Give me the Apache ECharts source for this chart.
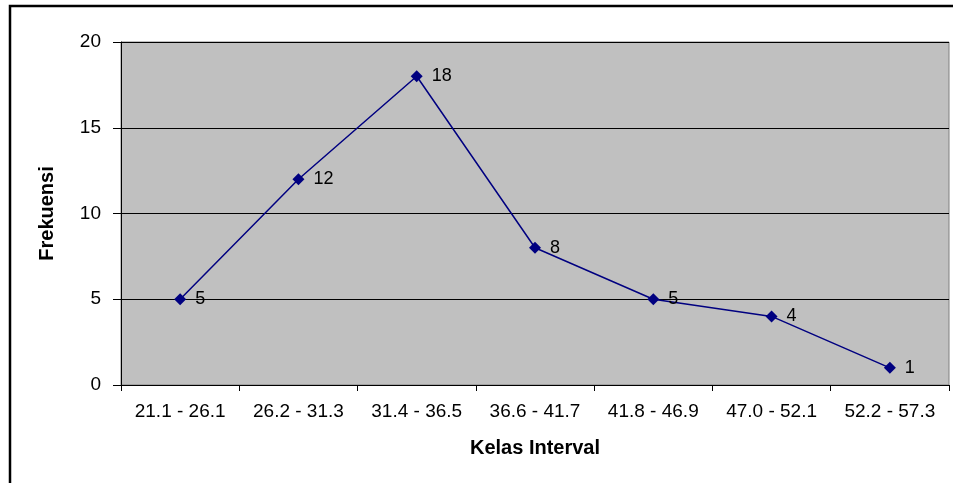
<!DOCTYPE html>
<html><head><meta charset="utf-8">
<script src="https://cdn.jsdelivr.net/npm/echarts@6/dist/echarts.min.js"></script>
<style>html,body{margin:0;padding:0;background:#fff}#c{width:953px;height:483px}</style>
</head><body><div id="c"></div>
<script>
const categories = ['21.1 - 26.1','26.2 - 31.3','31.4 - 36.5','36.6 - 41.7','41.8 - 46.9','47.0 - 52.1','52.2 - 57.3'];
const frekuensi = [5, 12, 18, 8, 5, 4, 1];
const yTicks = [0, 5, 10, 15, 20];

const chart = echarts.init(document.getElementById('c'));
chart.setOption({
  animation: false,
  backgroundColor: '#fff',
  textStyle: { fontFamily: 'Liberation Sans, Arial, sans-serif' },
  graphic: [{
    type: 'rect', z: 100,
    shape: { x: 10, y: 6, width: 1000, height: 1000 },
    style: { fill: 'none', stroke: '#000', lineWidth: 2.5 }
  }],
  grid: { left: 121, top: 42, right: 4, bottom: 98, show: true, backgroundColor: '#c0c0c0', borderColor: '#808080', borderWidth: 1 },
  xAxis: {
    type: 'category', data: categories, boundaryGap: true,
    name: 'Kelas Interval', nameLocation: 'middle', nameGap: 53,
    nameTextStyle: { fontSize: 20, fontWeight: 'bold', color: '#000' },
    axisLine: { lineStyle: { color: '#000', width: 1 } },
    axisTick: { show: true, length: 6, lineStyle: { color: '#000' } },
    axisLabel: { fontSize: 19, color: '#000', margin: 17, interval: 0 }
  },
  yAxis: {
    type: 'value', min: yTicks[0], max: yTicks[yTicks.length - 1], interval: 5,
    name: 'Frekuensi', nameLocation: 'middle', nameGap: 64, nameRotate: 90,
    nameTextStyle: { fontSize: 20, fontWeight: 'bold', color: '#000' },
    axisLine: { show: true, lineStyle: { color: '#000', width: 1 } },
    axisTick: { show: true, length: 8, lineStyle: { color: '#000' } },
    axisLabel: { fontSize: 19, color: '#000', margin: 20 },
    splitLine: { show: true, lineStyle: { color: '#000', width: 1 } }
  },
  series: [{
    type: 'line', data: frekuensi,
    symbol: 'diamond', symbolSize: 12,
    lineStyle: { color: '#000080', width: 1.5 },
    itemStyle: { color: '#000080' },
    label: { show: true, position: 'right', distance: 9, fontSize: 18, color: '#000' }
  }]
});
</script></body></html>
